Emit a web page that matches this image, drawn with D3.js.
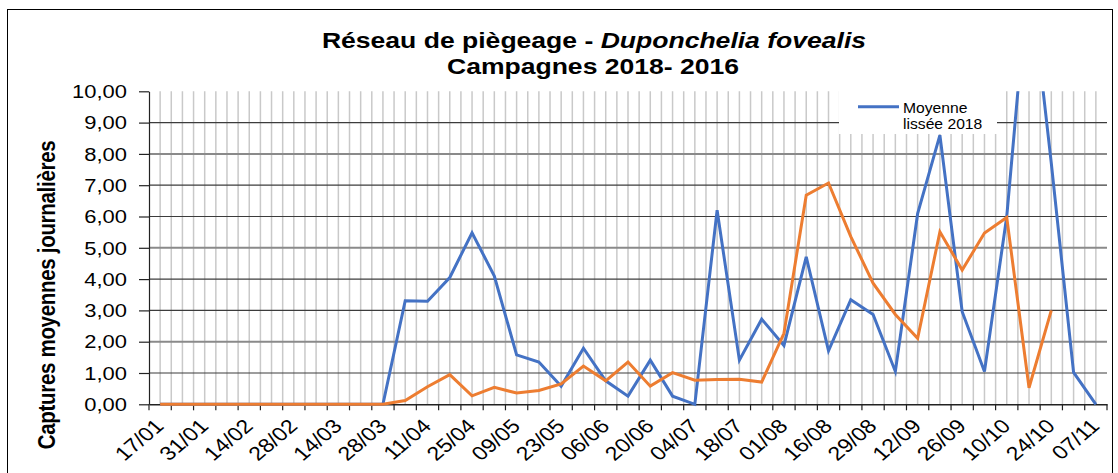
<!DOCTYPE html>
<html>
<head>
<meta charset="utf-8">
<script src="https://cdn.jsdelivr.net/npm/d3@7"></script>
<style>
  html, body { margin: 0; padding: 0; background: #fff; }
  svg { display: block; }
  text { font-family: "Liberation Sans", Arial, sans-serif; fill: #000; }
</style>
</head>
<body>
<script>
// weekly trap counts, one value per category (43 weeks, labels every 2nd week)
const tickLabels = ['17/01', '31/01', '14/02', '28/02', '14/03', '28/03', '11/04', '25/04',
  '09/05', '23/05', '06/06', '20/06', '04/07', '18/07', '01/08', '16/08', '29/08', '12/09',
  '26/09', '10/10', '24/10', '07/11']

const blue2018 = [0, 0, 0, 0, 0, 0, 0, 0, 0, 0, 0,
  3.31, 3.29, 4.05, 5.48, 4.10, 1.58, 1.35, 0.58, 1.79, 0.75,
  0.26, 1.41, 0.26, 0, 6.2, 1.41, 2.72, 1.88, 4.71, 1.71,
  3.34, 2.87, 1.05, 6.09, 8.6, 2.96, 1.05, 6.0, 14.0, 7.7,
  1.02, 0]

const orange2016 = [0, 0, 0, 0, 0, 0, 0, 0, 0, 0, 0,
  0.12, 0.56, 0.95, 0.27, 0.54, 0.36, 0.44, 0.65, 1.22, 0.75,
  1.35, 0.58, 1.01, 0.77, 0.79, 0.80, 0.71, 2.27, 6.68, 7.07,
  5.36, 3.87, 2.87, 2.11, 5.51, 4.29, 5.47, 5.97, 0.53, 3.0]

const yTicks = d3.range(0, 11)
const legendLabel = ['Moyenne', 'lissée 2018']

const W = 1118
const H = 473
const plot = { left: 149, right: 1107, top: 91.3, bottom: 404.3 }
const SX = 1.18 // the source picture is stretched horizontally

const svg = d3.select('body').append('svg')
  .attr('xmlns', 'http://www.w3.org/2000/svg')
  .attr('width', W)
  .attr('height', H)

svg.append('rect').attr('width', W).attr('height', H).attr('fill', '#fff')
svg.append('rect')
  .attr('x', 7.5).attr('y', 9.5).attr('width', 1105).attr('height', 480)
  .attr('fill', 'none').attr('stroke', '#000').attr('stroke-width', 1)

const x = d3.scaleBand()
  .domain(d3.range(blue2018.length))
  .range([plot.left, plot.right])
  .padding(0)
const y = d3.scaleLinear().domain([0, 10]).range([plot.bottom, plot.top])
const bw = x.bandwidth()
const cx = i => x(i) + bw / 2

// vertical gridlines, at every half category
const vLines = d3.range(1, blue2018.length * 2).map(k => plot.left + k * bw / 2)
svg.append('g')
  .selectAll('line')
  .data(vLines)
  .join('line')
  .attr('x1', d => d).attr('x2', d => d)
  .attr('y1', plot.top).attr('y2', plot.bottom)
  .attr('stroke', '#c9c9c9')
  .attr('stroke-width', 1.5)

// horizontal gridlines
const heavy = v => v % 3 === 2
svg.append('g')
  .selectAll('line')
  .data(yTicks.filter(v => v > 0 && v < 10))
  .join('line')
  .attr('x1', plot.left).attr('x2', plot.right)
  .attr('y1', d => y(d)).attr('y2', d => y(d))
  .attr('stroke', d => heavy(d) ? '#8a8a8a' : '#3c3c3c')
  .attr('stroke-width', d => heavy(d) ? 2 : 1.2)

// y axis
const yAxis = svg.append('g')
  .attr('transform', `translate(${plot.left},0)`)
  .call(d3.axisLeft(y).tickValues(yTicks).tickSize(10).tickSizeOuter(0).tickFormat(() => ''))
yAxis.selectAll('path, line').attr('stroke', '#222').attr('stroke-width', 1.2)
yAxis.selectAll('.tick text').remove()

svg.append('g')
  .selectAll('text')
  .data(yTicks)
  .join('text')
  .attr('transform', d => `translate(127,${y(d) + 6.7}) scale(${SX},1)`)
  .attr('text-anchor', 'end')
  .style('font-size', '18.6px')
  .text(d => d3.format('.2f')(d).replace('.', ','))

// x axis
const xAxis = svg.append('g')
  .attr('transform', `translate(0,${plot.bottom})`)
  .call(d3.axisBottom(x).tickSize(0).tickFormat(() => ''))
xAxis.select('.domain').attr('stroke', '#222').attr('stroke-width', 1.4)
xAxis.selectAll('.tick').remove()

svg.append('g')
  .selectAll('line')
  .data(d3.range(blue2018.length + 1))
  .join('line')
  .attr('x1', d => plot.left + d * bw).attr('x2', d => plot.left + d * bw)
  .attr('y1', plot.bottom).attr('y2', plot.bottom + 6)
  .attr('stroke', '#222')
  .attr('stroke-width', 1.2)

svg.append('g')
  .selectAll('text')
  .data(tickLabels)
  .join('text')
  .attr('transform', (d, i) => `translate(${cx(i * 2) + 5},${plot.bottom + 23}) scale(${SX},1) rotate(-45)`)
  .attr('text-anchor', 'end')
  .style('font-size', '19.5px')
  .text(d => d)

// series
svg.append('clipPath').attr('id', 'plotclip')
  .append('rect')
  .attr('x', plot.left).attr('y', plot.top)
  .attr('width', plot.right - plot.left).attr('height', plot.bottom - plot.top + 3)

const line = d3.line().x((d, i) => cx(i)).y(d => y(d))
const series = [
  { values: blue2018, color: '#4472c4' },
  { values: orange2016, color: '#ed7d31' }
]
svg.append('g')
  .attr('clip-path', 'url(#plotclip)')
  .selectAll('path')
  .data(series)
  .join('path')
  .attr('d', d => line(d.values))
  .attr('fill', 'none')
  .attr('stroke', d => d.color)
  .attr('stroke-width', 3)
  .attr('stroke-linejoin', 'miter')

// legend
const lg = svg.append('g')
lg.append('rect')
  .attr('x', 839).attr('y', 86).attr('width', 158).attr('height', 48)
  .attr('fill', '#fff')
lg.append('line')
  .attr('x1', 858).attr('x2', 899).attr('y1', 106.7).attr('y2', 106.7)
  .attr('stroke', series[0].color).attr('stroke-width', 3)
lg.selectAll('text')
  .data(legendLabel)
  .join('text')
  .attr('transform', (d, i) => `translate(903,${113 + i * 15.5}) scale(1.12,1)`)
  .style('font-size', '14px')
  .text(d => d)

// titles
const title = svg.append('text')
  .attr('transform', `translate(594,48) scale(${SX},1)`)
  .attr('text-anchor', 'middle')
  .style('font-size', '22.5px')
  .style('font-weight', 'bold')
title.append('tspan').text('Réseau de piègeage - ')
title.append('tspan').style('font-style', 'italic').text('Duponchelia fovealis')

svg.append('text')
  .attr('transform', `translate(593,74) scale(${SX},1)`)
  .attr('text-anchor', 'middle')
  .style('font-size', '22.5px')
  .style('font-weight', 'bold')
  .text('Campagnes 2018- 2016')

svg.append('text')
  .attr('transform', `translate(55,295) scale(${SX},1) rotate(-90)`)
  .attr('text-anchor', 'middle')
  .style('font-size', '20.5px')
  .style('font-weight', 'bold')
  .style('letter-spacing', '-0.3px')
  .text('Captures moyennes journalières')
</script>
</body>
</html>
